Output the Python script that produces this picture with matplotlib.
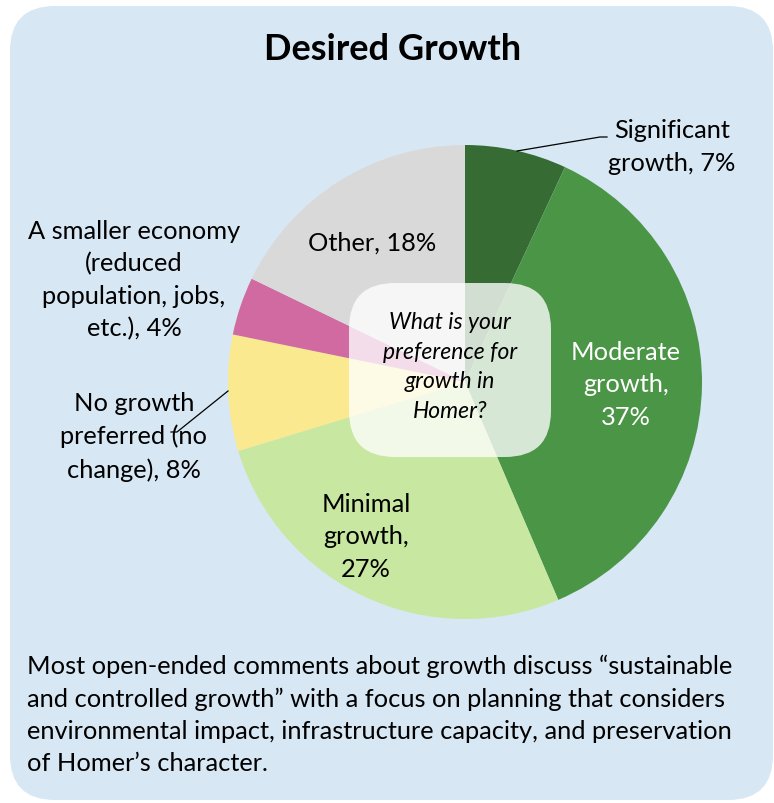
import matplotlib
matplotlib.use("Agg")
import matplotlib.pyplot as plt
from matplotlib.patches import FancyBboxPatch

plt.rcParams['font.family'] = ['Lato', 'DejaVu Sans']

# data
labels = ["Significant\ngrowth, 7%", "Moderate\ngrowth,\n37%", "Minimal\ngrowth,\n27%",
          "No growth\npreferred (no\nchange), 8%", "A smaller economy\n(reduced\npopulation, jobs,\netc.), 4%",
          "Other, 18%"]
values = [7, 37, 27, 8, 4, 18]
colors = ["#366b34", "#4b9547", "#c8e7a0", "#fae98f", "#d06aa1", "#d9d9d9"]
title = "Desired Growth"
center_text = "What is your\npreference for\ngrowth in\nHomer?"
note = ("Most open-ended comments about growth discuss \u201csustainable\n"
        "and controlled growth\u201d with a focus on planning that considers\n"
        "environmental impact, infrastructure capacity, and preservation\n"
        "of Homer\u2019s character.")

W, H = 774, 804
fig = plt.figure(figsize=(W / 100, H / 100), dpi=100)

# background axes in pixel coords (y down)
bg = fig.add_axes([0, 0, 1, 1], zorder=0)
bg.set_xlim(0, W)
bg.set_ylim(H, 0)
bg.axis('off')
bg.add_patch(FancyBboxPatch((10, 7), 763, 794, boxstyle="round,pad=0,rounding_size=45",
                            fc="#d7e7f3", ec="none"))

# pie
cx, cy, r = 465, 383, 237
pax = fig.add_axes([(cx - r) / W, 1 - (cy + r) / H, 2 * r / W, 2 * r / H], zorder=1)
wedges, _ = pax.pie(values, colors=colors, startangle=90, counterclock=False,
                    wedgeprops=dict(linewidth=0))
pax.set_xlim(-1, 1)
pax.set_ylim(-1, 1)
pax.axis('off')

# overlay in pixel coords
ov = fig.add_axes([0, 0, 1, 1], zorder=2)
ov.set_xlim(0, W)
ov.set_ylim(H, 0)
ov.axis('off')
ov.patch.set_alpha(0)

ov.text(393, 50, title, ha='center', va='center', fontsize=26, fontweight='bold')

ov.add_patch(FancyBboxPatch((349, 284), 202, 174, boxstyle="round,pad=0,rounding_size=46",
                            fc="white", ec="none", alpha=0.78))
ov.text(450, 367, center_text, ha='center', va='center', fontsize=16.5, style='italic',
        linespacing=1.5)

fs = 18.3
ls = 1.49
ov.text(672, 147, labels[0], ha='center', va='center', fontsize=fs, linespacing=ls)
ov.text(626, 385, labels[1], ha='center', va='center', fontsize=fs, linespacing=ls, color='white')
ov.text(366, 537, labels[2], ha='center', va='center', fontsize=fs, linespacing=ls)
ov.text(134, 437, labels[3], ha='center', va='center', fontsize=fs, linespacing=ls)
ov.text(134, 280, labels[4], ha='center', va='center', fontsize=fs, linespacing=ls)
ov.text(372, 243, labels[5], ha='center', va='center', fontsize=fs, linespacing=ls)

# leader lines
ov.plot([517, 600, 607], [152, 138, 138], color='black', lw=0.9)
ov.plot([228, 177, 171], [392, 433, 433], color='black', lw=0.9)

ov.text(27, 715, note, ha='left', va='center', fontsize=18.3, linespacing=1.48)

fig.savefig("out.png", dpi=100)
